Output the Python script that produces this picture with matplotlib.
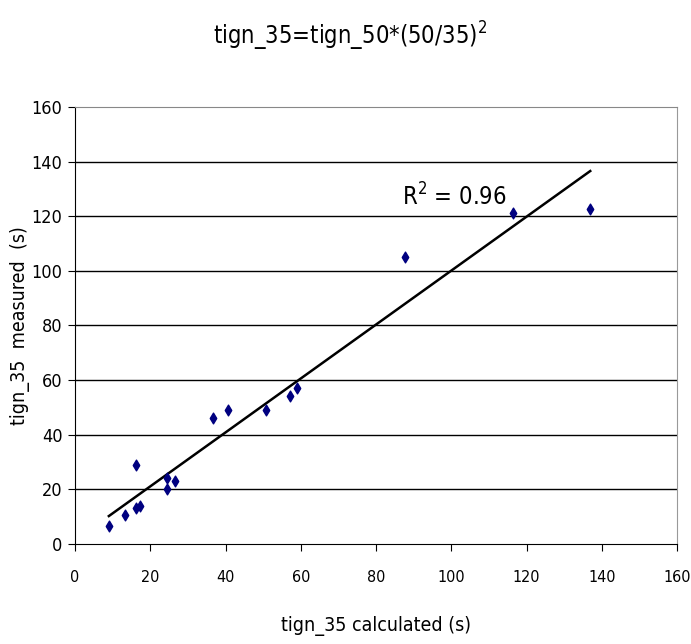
import matplotlib
matplotlib.use("Agg")
import matplotlib.pyplot as plt
import numpy as np

plt.rcParams['font.family'] = ['DejaVu Sans']
plt.rcParams['font.stretch'] = 'condensed'

x_calc = [9.0, 13.3, 16.2, 17.3, 16.2, 24.5, 24.5, 26.6, 36.7, 40.7, 50.8, 57.1, 59.0, 87.7, 116.4, 136.9]
y_meas = [6.6, 10.6, 13.2, 13.9, 28.9, 24.2, 20.1, 23.1, 46.1, 49.1, 49.1, 54.2, 57.1, 105.1, 121.2, 122.7]
ticks = [0, 20, 40, 60, 80, 100, 120, 140, 160]
r2_label = "R$^2$ = 0.96"

fig = plt.figure(figsize=(6.91, 6.44), dpi=100)
ax = fig.add_axes([0.1085, 0.1553, 0.8715, 0.6786])

for t in ticks[1:-1]:
    ax.axhline(t, color='black', lw=1.0, zorder=1)

ax.scatter(x_calc, y_meas, marker='d', s=30, color='#000080', zorder=3)

coef = np.polyfit(x_calc, y_meas, 1)
xl = np.array([min(x_calc), max(x_calc)])
ax.plot(xl, np.polyval(coef, xl), color='black', lw=1.8, zorder=2)

ax.text(87, 124, r2_label, fontsize=17, color='black')

ax.set_xlim(0, 160)
ax.set_ylim(0, 160)
ax.set_xticks(ticks)
ax.set_yticks(ticks)
ax.tick_params(direction='out', length=5)
ax.tick_params(axis='x', pad=14, labelsize=11.5)
ax.tick_params(axis='y', pad=4, labelsize=13)
ax.spines['top'].set_color('#888888')
ax.spines['right'].set_color('#999999')
ax.spines['left'].set_color('black')
ax.spines['bottom'].set_color('black')

ax.set_xlabel("tign_35 calculated (s)", fontsize=14, labelpad=22)
ax.set_ylabel("tign_35  measured  (s)", fontsize=14)
ax.yaxis.set_label_coords(-0.075, 0.5)
fig.text(0.507, 0.944, "tign_35=tign_50*(50/35)$^2$", fontsize=17, ha='center', va='center')

fig.savefig("out.png", dpi=100)
